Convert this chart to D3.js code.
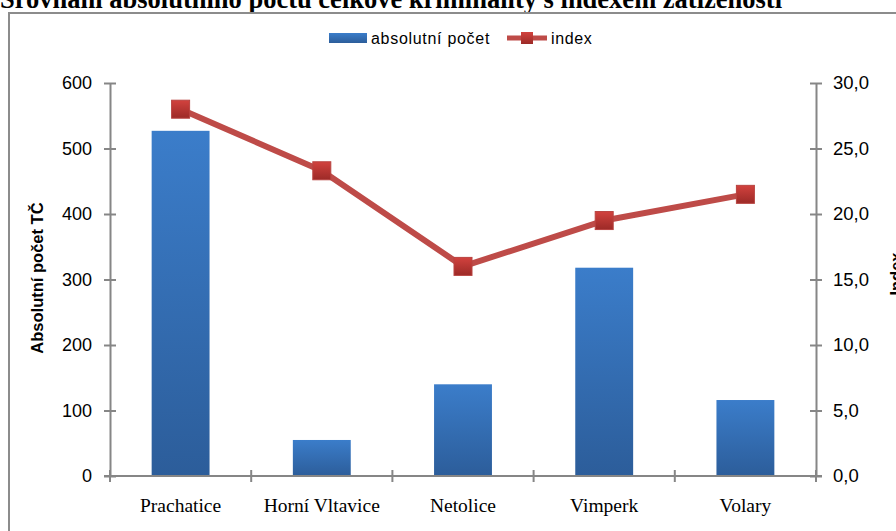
<!DOCTYPE html>
<html>
<head>
<meta charset="utf-8">
<script src="https://cdn.jsdelivr.net/npm/d3@7"></script>
<style>
  body { margin: 0; background: #fff; }
  svg { display: block; }
</style>
</head>
<body>
<svg id="viz"></svg>
<script>
// ----------------------- DATA
const categories = ['Prachatice', 'Horní Vltavice', 'Netolice', 'Vimperk', 'Volary'];
const absolutni = [527, 55, 140, 318, 116];
const indexValues = [28.0, 23.3, 16.0, 19.5, 21.5];
const leftTicks = [0, 100, 200, 300, 400, 500, 600];
const rightTicks = [0, 5, 10, 15, 20, 25, 30];

// ----------------------- SETTINGS
const W = 896, H = 531;
const margin = { top: 83, right: 80, bottom: 55, left: 110 };
const width = W - margin.left - margin.right,
  height = H - margin.top - margin.bottom;

const sans = '"Liberation Sans", Arial, sans-serif';
const serif = '"Liberation Serif", "Times New Roman", serif';

const svg = d3.select('#viz')
  .attr('width', W)
  .attr('height', H);

// gradients
const defs = svg.append('defs');
const barGrad = defs.append('linearGradient')
  .attr('id', 'barGrad').attr('x1', 0).attr('y1', 0).attr('x2', 0).attr('y2', 1);
barGrad.append('stop').attr('offset', '0%').attr('stop-color', '#3b7dca');
barGrad.append('stop').attr('offset', '100%').attr('stop-color', '#2c5d9a');
const mkGrad = defs.append('linearGradient')
  .attr('id', 'mkGrad').attr('x1', 0).attr('y1', 0).attr('x2', 0).attr('y2', 1);
mkGrad.append('stop').attr('offset', '0%').attr('stop-color', '#d2423e');
mkGrad.append('stop').attr('offset', '100%').attr('stop-color', '#9c2a27');

// title (cut at top edge)
svg.append('text')
  .attr('x', 0).attr('y', 8)
  .style('font-family', serif)
  .style('font-weight', 'bold')
  .style('font-size', '26.5px')
  .text('Srovnání absolutního počtu celkové kriminality s indexem zatíženosti');

// chart frame
svg.append('rect')
  .attr('x', 9).attr('y', 13)
  .attr('width', 900).attr('height', 540)
  .attr('fill', 'none')
  .attr('stroke', '#8c8c8c')
  .attr('stroke-width', 2);

// ----------------------- SCALES
const x = d3.scaleBand()
  .domain(categories)
  .range([0, width])
  .paddingInner(0.59)
  .paddingOuter(0.295);

const xTickScale = d3.scaleLinear().domain([0, categories.length]).range([0, width]);

const y = d3.scaleLinear().domain([0, 600]).range([height, 0]);
const y2 = d3.scaleLinear().domain([0, 30]).range([height, 0]);

const chart = svg.append('g')
  .attr('transform', `translate(${margin.left}, ${margin.top})`);

// ----------------------- BARS
chart.selectAll('.bar')
  .data(absolutni)
  .enter().append('rect')
  .attr('class', 'bar')
  .attr('x', (d, i) => x(categories[i]))
  .attr('y', d => y(d))
  .attr('width', x.bandwidth())
  .attr('height', d => height - y(d))
  .attr('fill', 'url(#barGrad)');

// ----------------------- AXES
const axisColor = '#868686';

// left axis
const yAxis = d3.axisLeft(y).tickValues(leftTicks).tickSizeInner(6).tickSizeOuter(0).tickPadding(12);
const gy = chart.append('g').call(yAxis);
gy.select('.domain').attr('stroke', axisColor).attr('stroke-width', 2);
gy.selectAll('.tick line').attr('stroke', axisColor).attr('stroke-width', 2).attr('x1', 6).attr('x2', -6);
gy.selectAll('.tick text')
  .style('font-family', sans)
  .style('font-size', '18px')
  .attr('fill', '#000');

// right axis
const y2Axis = d3.axisRight(y2).tickValues(rightTicks).tickSizeInner(6).tickSizeOuter(0).tickPadding(11)
  .tickFormat(d => d3.format('.1f')(d).replace('.', ','));
const gy2 = chart.append('g').attr('transform', `translate(${width}, 0)`).call(y2Axis);
gy2.select('.domain').attr('stroke', axisColor).attr('stroke-width', 2);
gy2.selectAll('.tick line').attr('stroke', axisColor).attr('stroke-width', 2).attr('x1', -6).attr('x2', 6);
gy2.selectAll('.tick text')
  .style('font-family', sans)
  .style('font-size', '18.5px')
  .attr('fill', '#000');

// x axis
const gx = chart.append('g').attr('transform', `translate(0, ${height})`);
gx.append('line')
  .attr('x1', -6).attr('x2', width + 6)
  .attr('stroke', axisColor).attr('stroke-width', 2);
gx.selectAll('.xtick')
  .data(d3.range(categories.length + 1))
  .enter().append('line')
  .attr('x1', d => xTickScale(d)).attr('x2', d => xTickScale(d))
  .attr('y1', -6).attr('y2', 6)
  .attr('stroke', axisColor).attr('stroke-width', 2);
gx.selectAll('.xlabel')
  .data(categories)
  .enter().append('text')
  .attr('x', d => x(d) + x.bandwidth() / 2)
  .attr('y', 36)
  .attr('text-anchor', 'middle')
  .style('font-family', serif)
  .style('font-size', '19.5px')
  .text(d => d);

// ----------------------- LINE
const line = d3.line()
  .x((d, i) => x(categories[i]) + x.bandwidth() / 2)
  .y(d => y2(d));

chart.append('path')
  .datum(indexValues)
  .attr('d', line)
  .attr('fill', 'none')
  .attr('stroke', '#be4b48')
  .attr('stroke-width', 6)
  .attr('stroke-linejoin', 'round');

const mk = 18;
chart.selectAll('.marker')
  .data(indexValues)
  .enter().append('rect')
  .attr('x', (d, i) => x(categories[i]) + x.bandwidth() / 2 - mk / 2)
  .attr('y', d => y2(d) - mk / 2)
  .attr('width', mk).attr('height', mk)
  .attr('fill', 'url(#mkGrad)')
  .attr('stroke', '#b84340')
  .attr('stroke-width', 1);

// ----------------------- AXIS TITLES
svg.append('text')
  .attr('transform', 'translate(43, 278) rotate(-90)')
  .attr('text-anchor', 'middle')
  .style('font-family', sans)
  .style('font-weight', 'bold')
  .style('font-size', '16.5px')
  .text('Absolutní počet TČ');

svg.append('text')
  .attr('transform', 'translate(902, 274) rotate(-90)')
  .attr('text-anchor', 'middle')
  .style('font-family', sans)
  .style('font-weight', 'bold')
  .style('font-size', '16.5px')
  .text('Index');

// ----------------------- LEGEND
const legend = svg.append('g').attr('transform', 'translate(329, 38)');
legend.append('rect')
  .attr('x', 0).attr('y', -5).attr('width', 38).attr('height', 10)
  .attr('fill', 'url(#barGrad)');
legend.append('text')
  .attr('x', 42).attr('y', 6)
  .style('font-family', sans)
  .style('font-size', '16px')
  .style('letter-spacing', '0.7px')
  .text('absolutní počet');
legend.append('line')
  .attr('x1', 178).attr('x2', 218).attr('y1', 0).attr('y2', 0)
  .attr('stroke', '#be4b48').attr('stroke-width', 5);
legend.append('rect')
  .attr('x', 192).attr('y', -6).attr('width', 12).attr('height', 12)
  .attr('fill', 'url(#mkGrad)');
legend.append('text')
  .attr('x', 222).attr('y', 6)
  .style('font-family', sans)
  .style('font-size', '16px')
  .style('letter-spacing', '0.6px')
  .text('index');
</script>
</body>
</html>
